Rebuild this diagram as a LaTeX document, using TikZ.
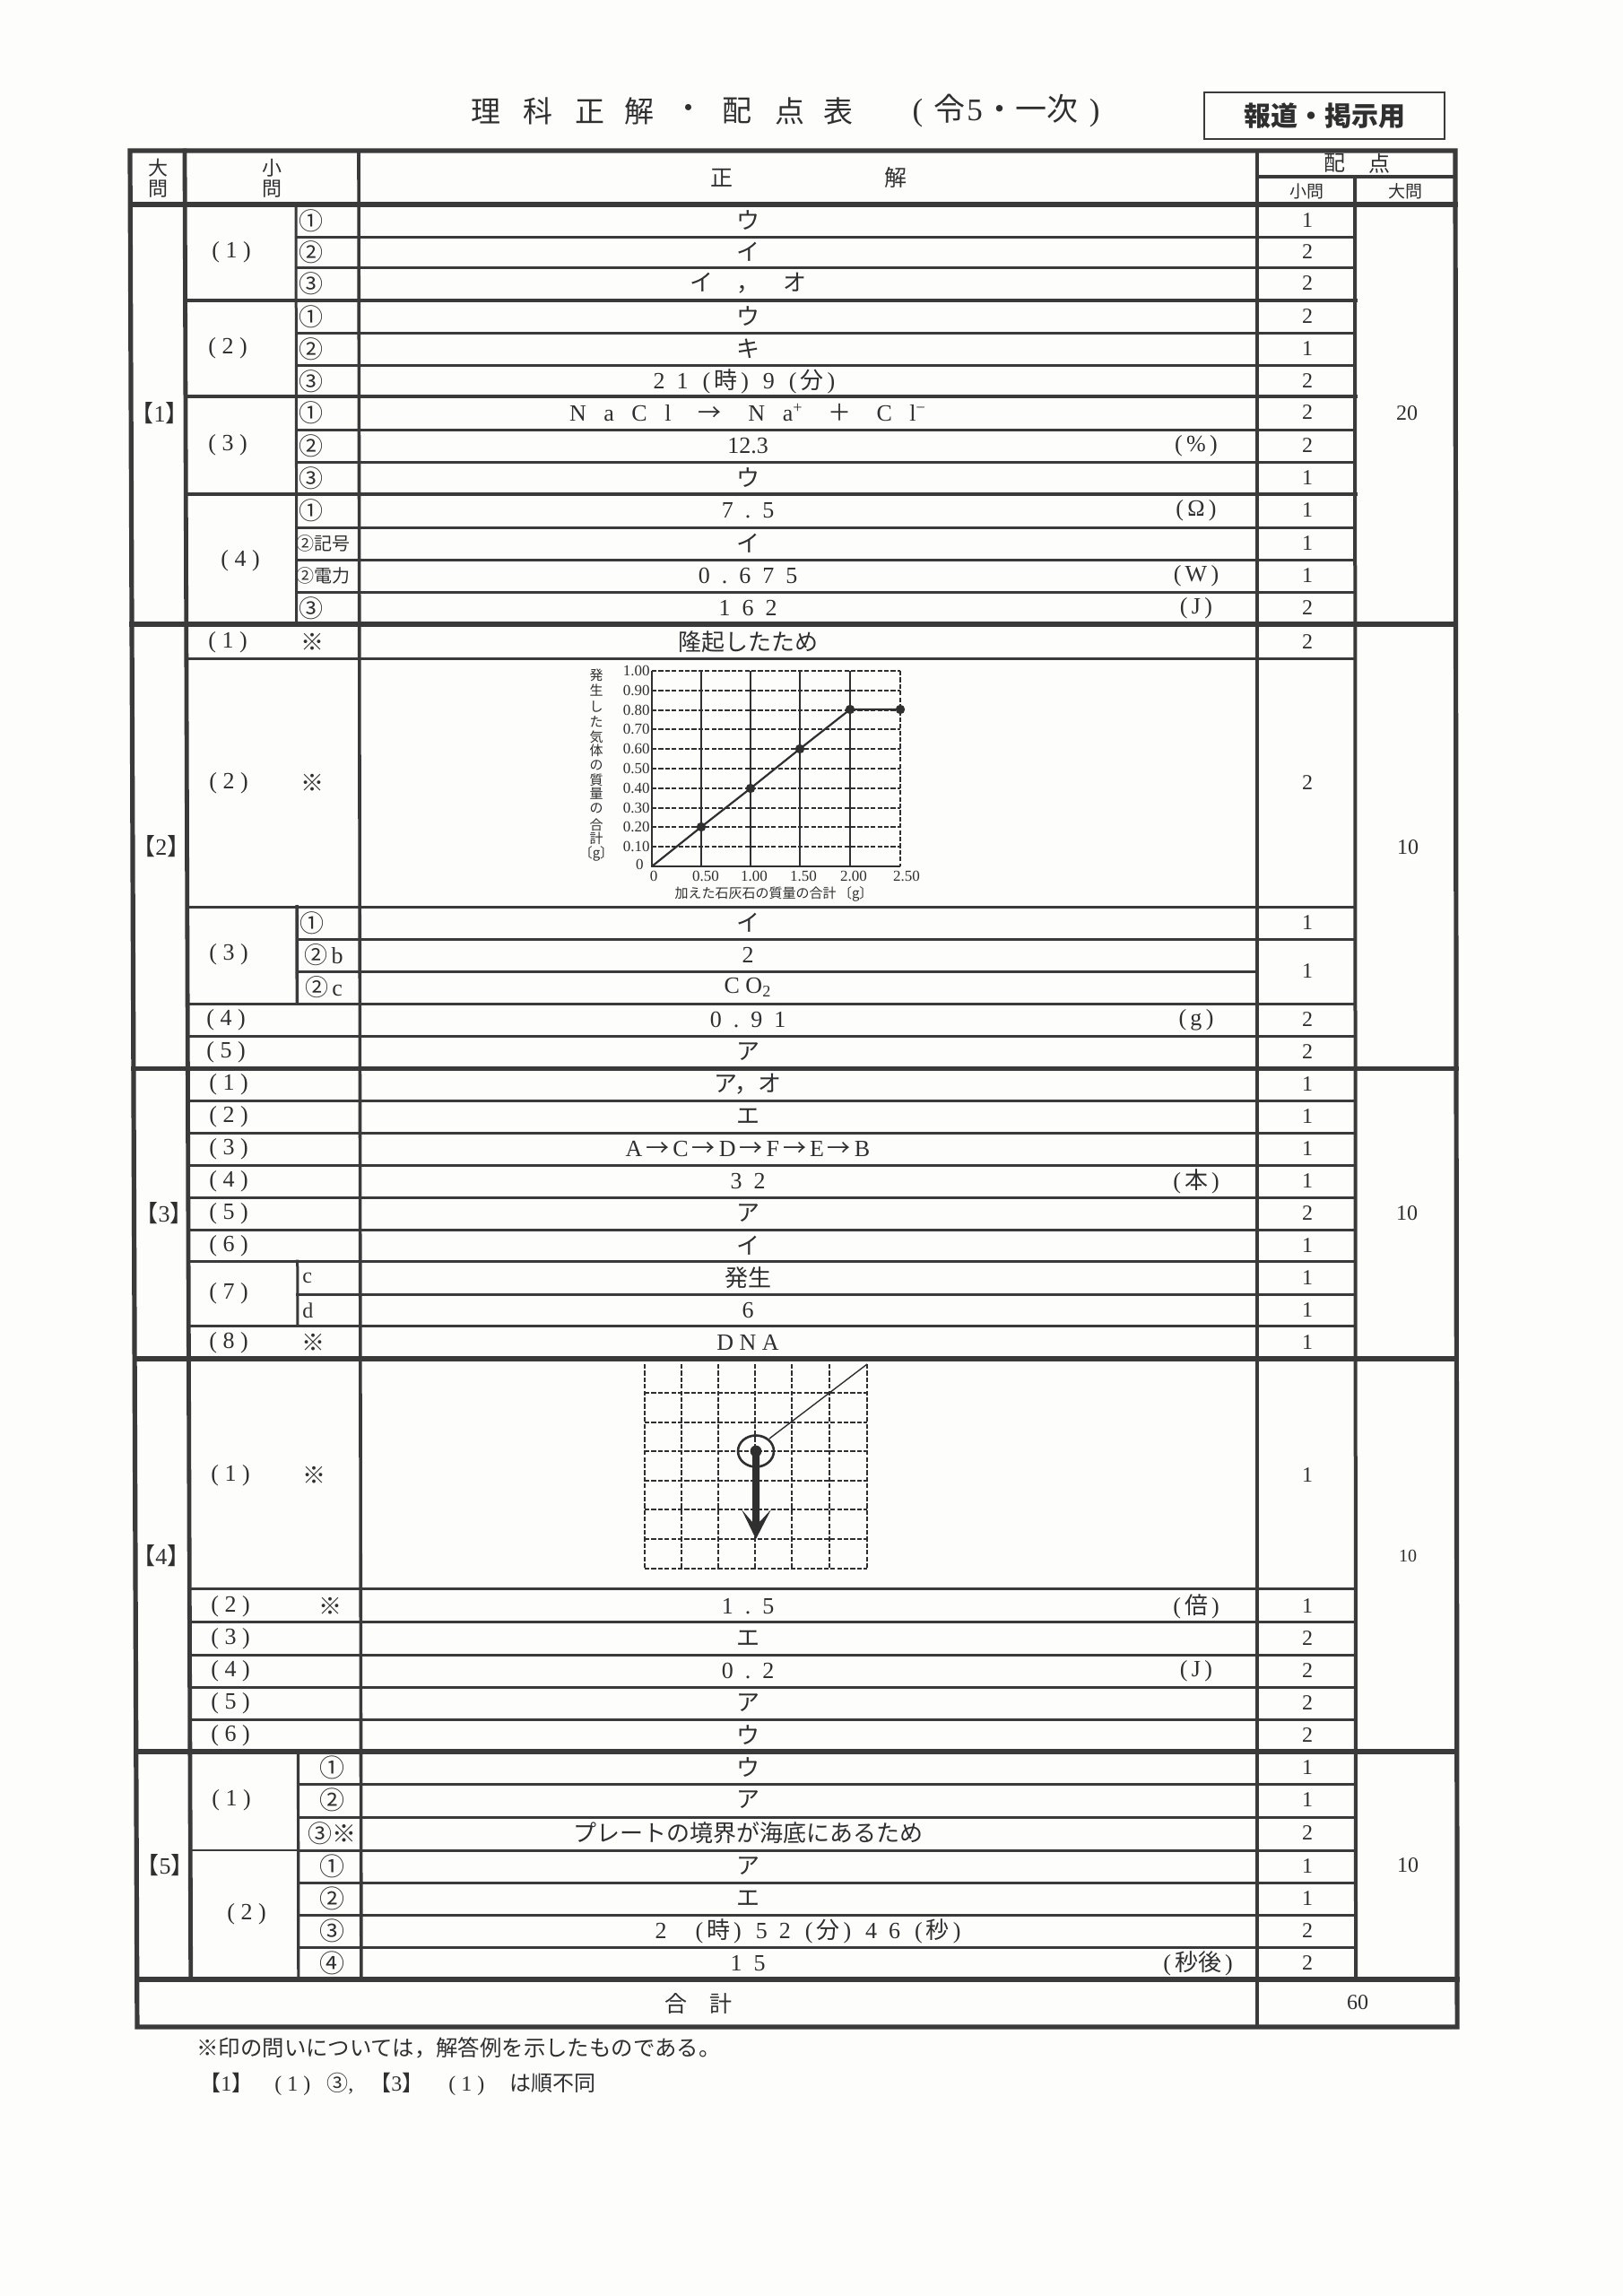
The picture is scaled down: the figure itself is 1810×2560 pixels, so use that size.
\documentclass[tikz,border=0pt]{standalone}
\usepackage{fontspec}
\setmainfont{Liberation Serif}
\newfontfamily\jp{Noto Sans CJK JP}
\newfontfamily\wide[LetterSpace=25]{Liberation Serif}
\newfontfamily\wider[LetterSpace=50]{Liberation Serif}
\newfontfamily\widest[LetterSpace=75]{Liberation Serif}
\definecolor{ink}{HTML}{2F2F2F}
\definecolor{rule}{HTML}{3A3A3A}
\definecolor{paper}{HTML}{FDFDFB}
\newcounter{tn}
\newcommand\Tx[3][]{\stepcounter{tn}\node[txt,#1] (t\arabic{tn}) at (#2) {#3};}
\newcommand\Ans[2]{\Tx{834,#1}{#2}}
\newcommand\Pts[2]{\Tx[fs=12]{1458,#1}{#2}}
\newcommand\Unit[2]{\Tx{1334,#1}{#2}}
\newcommand\Pk[1]{(\kern2pt{\jp #1}\kern2pt)}
\newcommand\Gp{\hspace{8pt}}
\newcommand\Ar{\kern2pt{\jp →}\kern2pt}
% column positions: x at y=168, slope
\def\aA{145}\def\sA{0.0038}
\def\aB{206}\def\sB{0.0033}
\def\aC{330}\def\sC{0.0014}
\def\aD{400}\def\sD{0.0014}
\def\aE{1402}\def\sE{0}
\def\aF{1511}\def\sF{0.0005}
\def\aG{1623}\def\sG{0.0010}
\newcommand\cx[2]{(\csname a#1\endcsname+\csname s#1\endcsname*(#2-168))}
\newcommand\hl[4]{\draw[line width=#4] ({\cx{#2}{#1}},#1) -- ({\cx{#3}{#1}},#1);}
\newcommand\vl[4]{\draw[line width=#4] ({\cx{#1}{#2}},#2) -- ({\cx{#1}{#3}},#3);}
\tikzset{
  fs/.style={font=\fontsize{#1}{#1}\selectfont},
  txt/.style={inner sep=0pt,text=ink,fs=13},
  griddash/.style={draw=ink,line width=0.8pt,dash pattern=on 2.6pt off 1.1pt},
}
\begin{document}
\begin{tikzpicture}[x=0.5pt,y=-0.5pt]
\useasboundingbox (0,0) rectangle (1810,2560);
\fill[paper] (0,0) rectangle (1810,2560);
% ---- rules
\begin{scope}[draw=rule,line cap=rect]
\draw[line width=2.6pt] ({\cx{A}{168}},168) -- ({\cx{G}{168}},168) -- ({\cx{G}{2260}},2260) -- ({\cx{A}{2260}},2260) -- cycle;
\vl{B}{168}{2207}{2.4pt}
\vl{D}{168}{2207}{1.8pt}
\vl{E}{168}{2260}{2.1pt}
\vl{F}{197}{2207}{2pt}
\vl{C}{228}{696}{1.5pt}
\vl{C}{1011}{1119}{1.8pt}
\vl{C}{1406}{1478}{1.5pt}
\vl{C}{1953}{2207}{1.6pt}
\hl{197}{E}{G}{2pt}
\hl{228}{A}{G}{2.6pt}
\foreach \y in {264,298,371,407,479,515,588,624,660} {\hl{\y}{C}{F}{1.5pt}}
\foreach \y in {335,442,551} {\hl{\y}{B}{F}{2.4pt}}
\foreach \y in {696,1191.5,1515,1953,2207} {\hl{\y}{A}{G}{2.6pt}}
\foreach \y in {734,1011,1119,1155,1227,1263,1299,1335,1371,1406,1478,1771,1808,1845,1881,1917} {\hl{\y}{B}{F}{1.5pt}}
\foreach \y in {1047,1443,1989,2026,2063,2099,2135,2171} {\hl{\y}{C}{F}{1.5pt}}
\hl{1083}{C}{E}{1.5pt}
\hl{2063}{B}{C}{0.6pt}
\end{scope}
% ---- title
\foreach \c/\x [count=\i] in {理/542,科/600,正/658,解/713,・/768,配/822,点/881,表/935}
  {\node[txt,font=\jp\fontsize{16.5}{16.5}\selectfont] (title\i) at (\x,124) {\c};}
\Tx[fs=17.5]{1122,124}{(\kern6pt{\jp 令}\kern1pt5\kern1pt{\jp ・一次}\kern6pt)}
\node[draw=rule,line width=1.3pt,minimum width=134pt,minimum height=26pt,inner sep=0pt,anchor=center,text=ink,font=\jp\bfseries\fontsize{15}{15}\selectfont] (badge) at (1477,129) {報道・掲示用};
% ---- header
\Tx[fs=11]{176,187}{\jp 大}\Tx[fs=11]{176,211}{\jp 問}
\Tx[fs=11]{303,187}{\jp 小}\Tx[fs=11]{303,211}{\jp 問}
\Tx[fs=12.5]{805,198}{\jp 正}\Tx[fs=12.5]{999,198}{\jp 解}
\Tx[fs=12]{1488,182}{\jp 配}\Tx[fs=12]{1538,182}{\jp 点}
\Tx[fs=9.5]{1457,213}{\jp 小問}\Tx[fs=9.5]{1567,213}{\jp 大問}
% ---- section 1
\Tx{178,461}{{\jp 【}1{\jp 】}}
\Tx[fs=12]{1569,461}{20}
\Tx{258,281}{\wide (1)}\Tx{254,388}{\wide (2)}\Tx{254,496}{\wide (3)}\Tx{268,625}{\wide (4)}
\foreach \y/\c in {246/①,281/②,316/③,353/①,389/②,425/③,460/①,497/②,533/③,569/①,678/③}
  {\Tx[fs=13.5]{347,\y}{\jp \c}}
\Tx[fs=10]{360,606}{\jp ②記号}
\Tx[fs=10]{360,642}{\jp ②電力}
\Ans{246}{\jp ウ}\Ans{281}{\jp イ}\Ans{316}{\jp イ　，　オ}
\Ans{353}{\jp ウ}\Ans{389}{\jp キ}
\Tx{830,425}{{\wider 21}\Gp\Pk{時}\Gp{\wide 9}\Gp\Pk{分}}
\Ans{460}{{\widest NaCl}\hspace{15pt}{\jp →}\hspace{15pt}{\widest Na}\textsuperscript{+}\hspace{14pt}{\jp ＋}\hspace{14pt}{\widest Cl}\textsuperscript{−}}
\Ans{497}{12.3}\Unit{497}{(\,\%\,)}
\Ans{533}{\jp ウ}
\Ans{569}{\wider 7.5}\Unit{569}{(\,Ω\,)}
\Ans{606}{\jp イ}
\Ans{642}{\wider 0.675}\Unit{642}{(\,W\,)}
\Ans{678}{\wider 162}\Unit{678}{(\,J\,)}
\foreach \y/\p in {246/1,281/2,316/2,353/2,389/1,425/2,460/2,497/2,533/1,569/1,606/1,642/1,678/2}
  {\Pts{\y}{\p}}
% ---- section 2
\Tx{180,944}{{\jp 【}2{\jp 】}}
\Tx[fs=12]{1570,945}{10}
\Tx{254,716}{\wide (1)}\Tx[fs=13]{348,716}{\jp ※}
\Tx{255,873}{\wide (2)}\Tx[fs=13]{348,873}{\jp ※}
\Tx{255,1064}{\wide (3)}
\Tx{252,1137}{\wide (4)}\Tx{252,1173}{\wide (5)}
\Tx[fs=13.5]{348,1029}{\jp ①}
\Tx[fs=13]{361,1065}{{\jp ②}\,b}
\Tx[fs=13]{361,1101}{{\jp ②}\,c}
\Ans{716}{\jp 隆起したため}
\Ans{1029}{\jp イ}\Ans{1065}{2}
\Ans{1101}{\wide CO\textsubscript{2}}
\Ans{1137}{\wider 0.91}\Unit{1137}{(\,g\,)}
\Ans{1173}{\jp ア}
\foreach \y/\p in {716/2,873/2,1029/1,1083/1,1137/2,1173/2} {\Pts{\y}{\p}}
% graph
\foreach \y in {748,770,792,813,835,857,879,901,922,944} {\draw[griddash] (727,\y) -- (1004,\y);}
\foreach \x in {782,837,892,948} {\draw[draw=ink,line width=0.9pt] (\x,748) -- (\x,966);}
\draw[draw=ink,line width=0.9pt] (727,748) -- (727,966) -- (1004,966);
\draw[griddash] (1004,748) -- (1004,966);
\draw[draw=ink,line width=1.1pt] (727,966) -- (782,922) -- (837,879) -- (892,835) -- (948,791) -- (1004,791);
\foreach \x/\y in {782/922,837/879,892/835,948/791,1004/791} {\fill[ink] (\x,\y) circle (2.6pt);}
\foreach \t/\y in {1.00/748,0.90/770,0.80/792,0.70/813,0.60/835,0.50/857,0.40/879,0.30/901,0.20/922,0.10/944}
  {\Tx[fs=8.5,anchor=east]{725,\y}{\t}}
\Tx[fs=8.5,anchor=east]{718,964}{0}
\Tx[fs=8.5]{729,977}{0}
\foreach \t/\x in {0.50/787,1.00/841,1.50/896,2.00/952,2.50/1011}
  {\Tx[fs=8.5]{\x,977}{\t}}
\Tx[fs=7.5]{863,997}{{\jp 加えた石灰石の質量の合計}\,{\jp 〔g〕}}
\foreach \c/\y in {発/753,生/770,し/788,た/805,気/822,体/837,の/853,質/870,量/885,の/901,合/920,計/935}
  {\Tx[fs=7.5]{665,\y}{\jp \c}}
\Tx[fs=7.5]{665,952}{\jp 〔g〕}
% ---- section 3
\Tx{183,1353}{{\jp 【}3{\jp 】}}
\Tx[fs=12]{1569,1353}{10}
\foreach \n/\y in {1/1209,2/1245,3/1281,4/1317,5/1353,6/1389,7/1442,8/1497} {\Tx{255,\y}{\wide (\n)}}
\Tx[fs=12,anchor=west]{337,1425}{c}\Tx[fs=12,anchor=west]{337,1461}{d}
\Tx[fs=13]{349,1497}{\jp ※}
\Ans{1209}{\jp ア，オ}\Ans{1245}{\jp エ}
\Ans{1281}{A\Ar C\Ar D\Ar F\Ar E\Ar B}
\Ans{1317}{\wider 32}\Unit{1317}{\Pk{本}}
\Ans{1353}{\jp ア}\Ans{1389}{\jp イ}\Ans{1425}{\jp 発生}\Ans{1461}{6}
\Ans{1497}{\wide DNA}
\foreach \y/\p in {1209/1,1245/1,1281/1,1317/1,1353/2,1389/1,1425/1,1461/1,1497/1} {\Pts{\y}{\p}}
% ---- section 4
\Tx{180,1735}{{\jp 【}4{\jp 】}}
\Tx[fs=10]{1570,1735}{10}
\Tx{257,1645}{\wide (1)}\Tx[fs=13]{350,1645}{\jp ※}
\Tx{257,1791}{\wide (2)}\Tx[fs=13]{368,1791}{\jp ※}
\foreach \n/\y in {3/1827,4/1863,5/1899,6/1935} {\Tx{257,\y}{\wide (\n)}}
\Ans{1791}{\wider 1.5}\Unit{1791}{\Pk{倍}}
\Ans{1827}{\jp エ}
\Ans{1863}{\wider 0.2}\Unit{1863}{(\,J\,)}
\Ans{1899}{\jp ア}\Ans{1935}{\jp ウ}
\foreach \y/\p in {1645/1,1791/1,1827/2,1863/2,1899/2,1935/2} {\Pts{\y}{\p}}
% grid figure
\foreach \x in {719,760,801,842,883,925,967} {\draw[griddash] (\x,1521) -- (\x,1749);}
\foreach \y in {1553,1586,1618,1651,1683,1716,1749} {\draw[griddash] (719,\y) -- (967,\y);}
\draw[draw=ink,line width=0.7pt] (967,1521) -- (858,1604);
\draw[draw=ink,line width=1.3pt] (843,1618) ellipse (20 and 17.5);
\fill[ink] (843,1618) circle (3.2pt);
\fill[ink] (839,1618) -- (847,1618) -- (847,1697) -- (860,1683) -- (843,1716) -- (827,1683) -- (839,1697) -- cycle;
% ---- section 5
\Tx{184,2080}{{\jp 【}5{\jp 】}}
\Tx[fs=12]{1570,2080}{10}
\Tx{258,2007}{\wide (1)}\Tx{275,2134}{\wide (2)}
\foreach \y/\c in {1971/①,2007/②,2081/①,2117/②,2153/③,2189/④} {\Tx[fs=14]{370,\y}{\jp \c}}
\Tx[fs=13.5]{370,2044}{\jp ③※}
\Ans{1971}{\jp ウ}\Ans{2007}{\jp ア}
\Ans{2044}{\jp プレートの境界が海底にあるため}
\Ans{2081}{\jp ア}\Ans{2117}{\jp エ}
\Tx{901,2153}{2\Gp\Gp\Pk{時}\Gp{\wider 52}\Gp\Pk{分}\Gp{\wider 46}\Gp\Pk{秒}}
\Ans{2189}{\wider 15}\Tx{1336,2189}{\Pk{秒後}}
\foreach \y/\p in {1971/1,2007/1,2044/2,2081/1,2117/1,2153/2,2189/2} {\Pts{\y}{\p}}
% ---- total and notes
\Tx[fs=12.5]{779,2234}{\jp 合　計}
\Tx[fs=12]{1514,2233}{60}
\Tx[fs=12.2,anchor=west]{219,2283}{\jp ※印の問いについては，解答例を示したものである。}
\Tx[fs=12,anchor=west]{222,2324}{{\jp 【}1{\jp 】}\hspace{12pt}{\wide (1)}\hspace{9pt}{\jp ③},\hspace{9pt}{\jp 【}3{\jp 】}\hspace{14pt}{\wide (1)}\hspace{14pt}{\jp は順不同}}
\end{tikzpicture}
\end{document}
